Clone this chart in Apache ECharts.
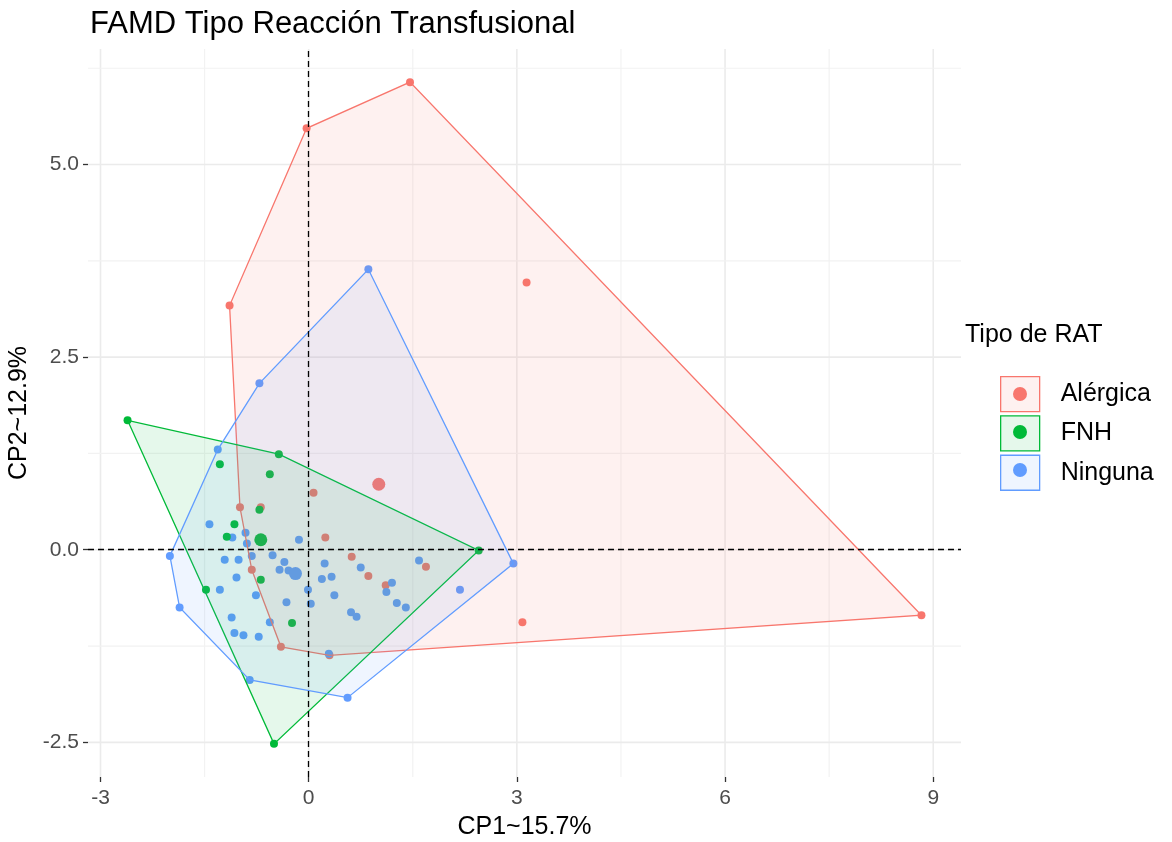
<!DOCTYPE html>
<html>
<head>
<meta charset="utf-8">
<script src="https://cdn.jsdelivr.net/npm/echarts@6/dist/echarts.min.js"></script>
<style>
  html, body { margin: 0; padding: 0; background: #fff; }
  #chart { width: 1172px; height: 842px; }
</style>
</head>
<body>
<div id="chart"></div>
<script>
var groups = ['Alérgica', 'FNH', 'Ninguna'];
var colors = ['#F8766D', '#00BA38', '#619CFF'];
var fills = ['rgba(248,118,109,0.1)', 'rgba(0,186,56,0.1)', 'rgba(97,156,255,0.1)'];

// individual coordinates (CP1, CP2) per group
var alergica = [
  [1.46, 6.07], [-0.03, 5.47], [-1.14, 3.17], [3.14, 3.47], [0.07, 0.74],
  [-0.69, 0.55], [-0.99, 0.55], [0.24, 0.16], [0.62, -0.09], [1.69, -0.22],
  [0.86, -0.34], [1.11, -0.46], [-0.82, -0.26], [-0.40, -1.26], [0.30, -1.37],
  [3.08, -0.94], [8.83, -0.85]
];
var fnh = [
  [-2.61, 1.68], [-0.43, 1.24], [-1.28, 1.11], [-0.56, 0.98], [-0.71, 0.52],
  [-1.07, 0.33], [-1.18, 0.17], [-0.69, -0.39], [-1.48, -0.52], [-0.24, -0.95],
  [2.45, -0.01], [-0.50, -2.52]
];
var ninguna = [
  [0.86, 3.64], [2.95, -0.18], [0.56, -1.92], [-0.85, -1.69], [-1.86, -0.75],
  [-2.00, -0.08], [-1.31, 1.30], [-0.71, 2.16], [-1.43, 0.33], [-1.10, 0.16],
  [-0.91, 0.22], [-0.89, 0.08], [-0.82, -0.08], [-1.21, -0.13], [-1.01, -0.13],
  [-0.52, -0.07], [-0.14, 0.13], [-0.35, -0.16], [-0.42, -0.26], [-0.29, -0.27],
  [0.23, -0.18], [0.19, -0.38], [0.33, -0.35], [-0.01, -0.52], [0.03, -0.70],
  [0.37, -0.59], [-0.32, -0.68], [-0.76, -0.59], [-1.28, -0.52], [-1.04, -0.36],
  [-1.11, -0.88], [-0.56, -0.94], [-1.07, -1.08], [-0.94, -1.11], [-0.72, -1.13],
  [0.29, -1.35], [0.75, -0.23], [1.20, -0.43], [1.12, -0.55], [1.27, -0.69],
  [1.40, -0.75], [0.61, -0.81], [0.69, -0.87], [1.59, -0.14], [2.18, -0.52]
];
// group centres (larger points)
var centres = [[1.01, 0.85], [-0.69, 0.13], [-0.19, -0.31]];

var xTicks = [-3, 0, 3, 6, 9];
var yTicks = [-2.5, 0, 2.5, 5];
var xMinor = [-1.5, 1.5, 4.5, 7.5];
var yMinor = [-1.25, 1.25, 3.75, 6.25];

var font = '"Liberation Sans", Arial, sans-serif';
var pointsByGroup = [alergica, fnh, ninguna];

// convex hull (monotone chain)
function hull(pts) {
  var p = pts.slice().sort(function (a, b) { return a[0] - b[0] || a[1] - b[1]; });
  function cross(o, a, b) { return (a[0] - o[0]) * (b[1] - o[1]) - (a[1] - o[1]) * (b[0] - o[0]); }
  var lower = [], upper = [];
  for (var i = 0; i < p.length; i++) {
    while (lower.length >= 2 && cross(lower[lower.length - 2], lower[lower.length - 1], p[i]) <= 0) lower.pop();
    lower.push(p[i]);
  }
  for (var j = p.length - 1; j >= 0; j--) {
    while (upper.length >= 2 && cross(upper[upper.length - 2], upper[upper.length - 1], p[j]) <= 0) upper.pop();
    upper.push(p[j]);
  }
  upper.pop(); lower.pop();
  return lower.concat(upper);
}

var gridV = xTicks.map(function (v) { return [v, 0, 1]; }).concat(xMinor.map(function (v) { return [v, 0, 0]; }));
var gridH = yTicks.map(function (v) { return [0, v, 1]; }).concat(yMinor.map(function (v) { return [0, v, 0]; }));

var series = [];
series.push({
  type: 'custom', z: 0, silent: true, data: gridV, encode: { x: 0, y: 1 },
  renderItem: function (params, api) {
    var x = api.coord([api.value(0), 0])[0];
    var cs = params.coordSys, major = api.value(2) === 1;
    return { type: 'line', shape: { x1: x, y1: cs.y, x2: x, y2: cs.y + cs.height },
      style: { stroke: major ? '#EBEBEB' : '#F2F2F2', lineWidth: major ? 1.6 : 1.2 } };
  }
});
series.push({
  type: 'custom', z: 0, silent: true, data: gridH, encode: { x: 0, y: 1 },
  renderItem: function (params, api) {
    var y = api.coord([0, api.value(1)])[1];
    var cs = params.coordSys, major = api.value(2) === 1;
    return { type: 'line', shape: { x1: cs.x, y1: y, x2: cs.x + cs.width, y2: y },
      style: { stroke: major ? '#EBEBEB' : '#F2F2F2', lineWidth: major ? 1.6 : 1.2 } };
  }
});

// points: red first, then blue, then green
[0, 2, 1].forEach(function (g) {
  var s = {
    type: 'scatter', name: groups[g], z: 2, data: pointsByGroup[g],
    symbolSize: 8, itemStyle: { color: colors[g], opacity: 1 }
  };
  if (g === 0) {
    s.markLine = {
      silent: true, symbol: ['none', 'none'], label: { show: false }, animation: false,
      lineStyle: { color: '#000', type: [6, 4], width: 1.3 },
      data: [{ xAxis: 0 }, { yAxis: 0 }]
    };
  }
  series.push(s);
});
centres.forEach(function (c, g) {
  series.push({ type: 'scatter', name: groups[g], z: 2, data: [c], symbolSize: 13,
    itemStyle: { color: colors[g], opacity: 1 } });
});

// convex hull polygons drawn over the points
pointsByGroup.forEach(function (pts, g) {
  var h = hull(pts);
  series.push({
    type: 'custom', name: groups[g], z: 3, silent: true, data: [[0, 0]], encode: { x: 0, y: 1 },
    renderItem: function (params, api) {
      return { type: 'polygon', shape: { points: h.map(function (p) { return api.coord(p); }) },
        style: { fill: fills[g], stroke: colors[g], lineWidth: 1.3 } };
    }
  });
});

var chart = echarts.init(document.getElementById('chart'));
chart.setOption({
  animation: false,
  textStyle: { fontFamily: font },
  title: [
    { text: 'FAMD Tipo Reacción Transfusional', left: 90, top: 9, padding: 0,
      textStyle: { fontFamily: font, fontSize: 31, fontWeight: 'normal', color: '#000' } },
    { text: 'Tipo de RAT', left: 965, top: 323, padding: 0,
      textStyle: { fontFamily: font, fontSize: 25, fontWeight: 'normal', color: '#000' } }
  ],
  legend: [
    {
      orient: 'vertical', left: 1000, top: 376, padding: 0, itemGap: 3,
      itemWidth: 39, itemHeight: 35, icon: 'rect', selectedMode: false,
      textStyle: { fontFamily: font, fontSize: 25, color: '#000', padding: [0, 0, 0, 16] },
      data: groups.map(function (g, i) {
        return { name: g, itemStyle: { color: fills[i], borderColor: colors[i], borderWidth: 1.3 } };
      })
    },
    {
      orient: 'vertical', left: 1013, top: 387, padding: 0, itemGap: 24,
      itemWidth: 14, itemHeight: 14, icon: 'circle', selectedMode: false,
      formatter: function () { return ' '; },
      textStyle: { fontSize: 10 },
      data: groups.map(function (g, i) {
        return { name: g, itemStyle: { color: colors[i], borderWidth: 0 } };
      })
    }
  ],
  grid: { left: 88, right: 211, top: 49, bottom: 65, containLabel: false, outerBoundsMode: 'none' },
  xAxis: {
    type: 'value', min: -3.18, max: 9.40,
    name: 'CP1~15.7%', nameLocation: 'middle', nameGap: 38,
    nameTextStyle: { fontFamily: font, fontSize: 25, color: '#000' },
    axisLine: { show: false, onZero: false },
    axisTick: { show: true, length: 5, customValues: xTicks, lineStyle: { color: '#333', width: 1.3 } },
    axisLabel: { customValues: xTicks, margin: 11, fontFamily: font, fontSize: 21, color: '#4D4D4D' },
    splitLine: { show: false }
  },
  yAxis: {
    type: 'value', min: -2.95, max: 6.50,
    name: 'CP2~12.9%', nameLocation: 'middle', nameGap: 46, nameRotate: 90,
    nameTextStyle: { fontFamily: font, fontSize: 25, color: '#000' },
    axisLine: { show: false, onZero: false },
    axisTick: { show: true, length: 5, customValues: yTicks, lineStyle: { color: '#333', width: 1.3 } },
    axisLabel: { customValues: yTicks, margin: 9, fontFamily: font, fontSize: 21, color: '#4D4D4D',
      formatter: function (v) { return v.toFixed(1); } },
    splitLine: { show: false }
  },
  series: series
});
</script>
</body>
</html>
